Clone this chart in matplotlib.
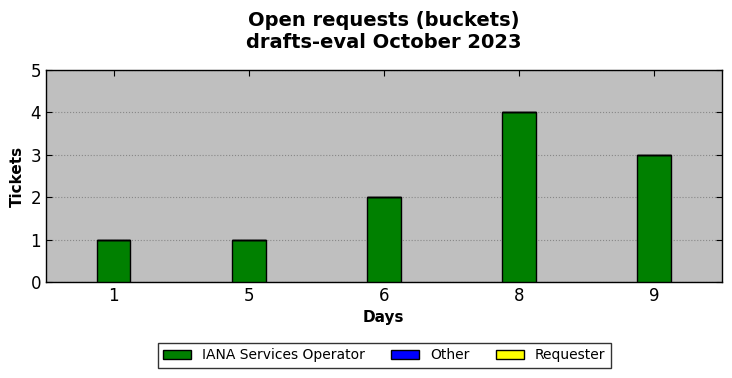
import matplotlib
matplotlib.use("Agg")
import matplotlib.pyplot as plt
import numpy as np

days = ["1", "5", "6", "8", "9"]
iana = [1, 1, 2, 4, 3]
other = [0, 0, 0, 0, 0]
requester = [0, 0, 0, 0, 0]

fig = plt.figure(figsize=(7.32, 3.78), dpi=100)
ax = fig.add_axes([0.0628, 0.254, 0.923, 0.561])
ax.set_facecolor("#bfbfbf")
x = np.arange(len(days))
w = 0.25
b1 = ax.bar(x, iana, w, color="green", edgecolor="black", linewidth=1, label="IANA Services Operator", zorder=3)
b2 = ax.bar(x, other, w, bottom=iana, color="blue", edgecolor="black", linewidth=1, label="Other", zorder=3)
bot = np.array(iana) + np.array(other)
b3 = ax.bar(x, requester, w, bottom=bot, color="yellow", edgecolor="black", linewidth=1, label="Requester", zorder=3)

ax.set_xlim(-0.5, 4.5)
ax.set_ylim(0, 5)
ax.set_xticks(x)
ax.set_xticklabels(days)
ax.set_yticks(range(0, 6))
ax.tick_params(axis="both", direction="in", top=True, right=True, labelsize=12, length=4)
ax.yaxis.grid(True, linestyle=":", color="#888888", linewidth=0.8, zorder=0)
ax.set_axisbelow(True)
for s in ax.spines.values():
    s.set_linewidth(1)
ax.set_xlabel("Days", fontsize=11, fontweight="bold")
ax.set_ylabel("Tickets", fontsize=11, fontweight="bold")
ax.set_title("Open requests (buckets)\ndrafts-eval October 2023", fontsize=14, fontweight="bold",
             pad=16, linespacing=1.15)

leg = fig.legend(handles=[b1, b2, b3], loc="center", bbox_to_anchor=(0.525, 0.06), ncol=3,
                 fontsize=10, frameon=True, fancybox=False, edgecolor="black",
                 handlelength=2, handleheight=0.7, columnspacing=1.9, borderpad=0.4)
leg.get_frame().set_linewidth(1)

fig.savefig("out.png", dpi=100)
